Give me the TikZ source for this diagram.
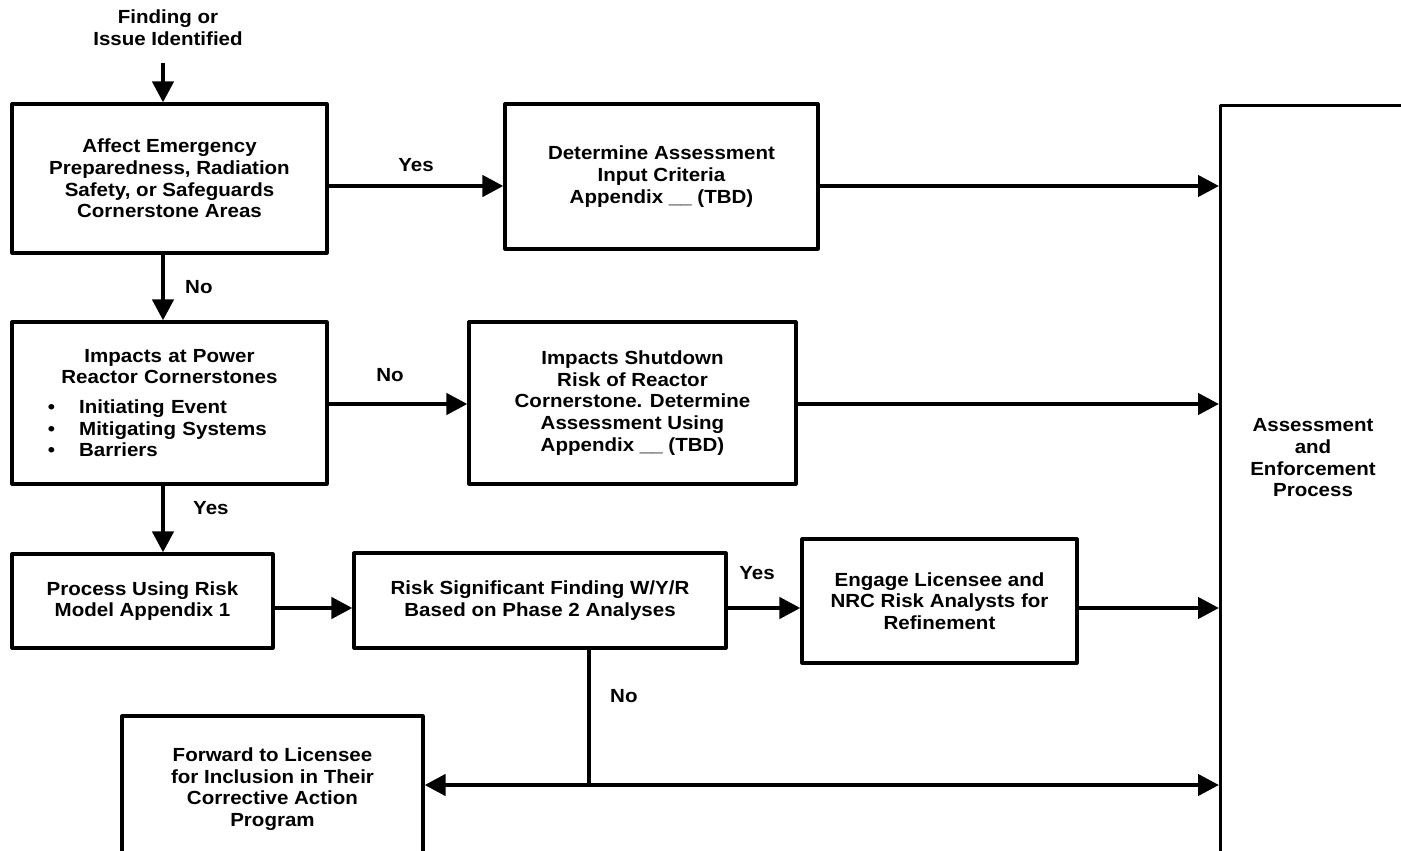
\documentclass[tikz,border=0pt]{standalone}
\usepackage{fontspec}
\setmainfont{Liberation Sans}[FakeStretch=1.08]
\usetikzlibrary{arrows.meta}

\newcommand{\bulletline}[1]{\makebox[315pt][l]{\hspace*{36pt}\textbullet\hspace{24pt}#1}}

\begin{document}
\begin{tikzpicture}[x=1pt, y=-1pt,
	every node/.style = {font=\fontsize{19}{21.7}\selectfont\bfseries, align=center, inner sep=0pt},
	box/.style = {draw, line width=3.2pt, line join=round},
	arrow/.style = {line width=4.4pt, -{Triangle[length=21pt,width=21pt]}},
	link/.style = {line width=4.4pt}]
	\useasboundingbox (0,0) rectangle (1401,851);
	\fill[white] (0,0) rectangle (1401,851);
	\clip (0,0) rectangle (1401,851);
	\coordinate (spine) at (163,0);
	\coordinate (r1) at (0,186);
	\coordinate (r2) at (0,404);
	\coordinate (r3) at (0,608);
	\coordinate (join) at (589,785);
	\node (find) at (168,28) {Finding or\\Issue Identified};
	\node[box, minimum width=315pt, minimum height=149pt] (affect) at (169.5,178.5) {Affect Emergency\\Preparedness, Radiation\\Safety, or Safeguards\\Cornerstone Areas};
	\node[box, text width=315pt, minimum height=162pt] (power) at (169.5,403) {Impacts at Power\\Reactor Cornerstones\\[8pt]\bulletline{Initiating Event}\\\bulletline{Mitigating Systems}\\\bulletline{Barriers}};
	\node[box, minimum width=261pt, minimum height=94pt] (process) at (142.5,601) {Process Using Risk\\Model Appendix 1};
	\node[box, minimum width=313pt, minimum height=145pt] (input) at (661.5,176.5) {Determine Assessment\\Input Criteria\\Appendix \_\_ (TBD)};
	\node[box, minimum width=327pt, minimum height=162pt] (shutdown) at (632.5,403) {Impacts Shutdown\\Risk of Reactor\\Cornerstone. Determine\\Assessment Using\\Appendix \_\_ (TBD)};
	\node[box, minimum width=372pt, minimum height=95pt] (risk) at (540,600.5) {Risk Significant Finding W/Y/R\\Based on Phase 2 Analyses};
	\node[box, minimum width=275pt, minimum height=124pt] (engage) at (939.5,601) {Engage Licensee and\\NRC Risk Analysts for\\Refinement};
	\node[box, minimum width=301pt, minimum height=146pt] (forward) at (272.5,789) {Forward to Licensee\\for Inclusion in Their\\Corrective Action\\Program};
	\node[box, anchor=north west, minimum width=300pt, minimum height=800pt] (ae) at (1219,104) {};
	\node (aetext) at (1313,458) {Assessment\\and\\Enforcement\\Process};
	\draw[arrow, shorten <=17pt] (find.south -| spine) -- (affect.north -| spine);
	\draw[arrow] (affect.south -| spine) -- node[right=20pt] {No} (power.north -| spine);
	\draw[arrow] (power.south -| spine) -- node[pos=0.33, right=28pt] {Yes} (process.north -| spine);
	\draw[arrow] (affect.east |- r1) -- node[above=12pt] {Yes} (input.west |- r1);
	\draw[arrow] (input.east |- r1) -- (ae.west |- r1);
	\draw[arrow] (power.east |- r2) -- node[above=20pt, xshift=-8pt] {No} (shutdown.west |- r2);
	\draw[arrow] (shutdown.east |- r2) -- (ae.west |- r2);
	\draw[arrow] (process.east |- r3) -- (risk.west |- r3);
	\draw[arrow] (risk.east |- r3) -- node[above=26pt, xshift=-7pt] {Yes} (engage.west |- r3);
	\draw[arrow] (engage.east |- r3) -- (ae.west |- r3);
	\draw[link] (risk.south -| join) -- node[pos=0.34, right=19pt] {No} (join);
	\draw[arrow] (join) -- (forward.east |- join);
	\draw[arrow] (join) -- (ae.west |- join);
\end{tikzpicture}
\end{document}
